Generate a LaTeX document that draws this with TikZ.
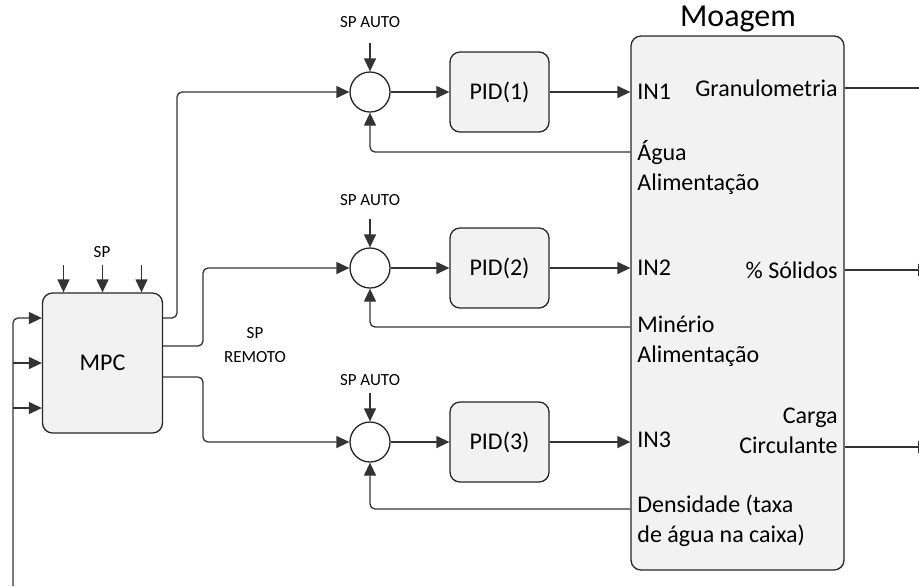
\documentclass[tikz,border=0pt]{standalone}
\usepackage{fontspec}
\setmainfont{Carlito}
\usetikzlibrary{arrows.meta}
\begin{document}
\begin{tikzpicture}[x=0.5pt,y=-0.5pt,
  line/.style={draw=black!80, line width=0.65pt, rounded corners=2.5pt},
  arr/.style={line, -{Triangle[length=6.5pt,width=6pt]}},
  blk/.style={draw=black!85, fill=black!5, line width=0.65pt, rounded corners=5pt, inner sep=0pt},
  sum/.style={circle, draw=black!85, fill=white, line width=0.65pt, minimum size=20pt, inner sep=0pt},
  txt/.style={font=\fontsize{12}{15}\selectfont, inner sep=0pt},
  small/.style={font=\fontsize{8.5}{12}\selectfont, inner sep=0pt, align=center}]
\useasboundingbox (0,0) rectangle (919,586);

% blocks
\node[blk, minimum width=60pt, minimum height=70pt, txt] (mpc) at (102.5,363) {MPC};
\node[blk, minimum width=106.5pt, minimum height=267pt] (moagem) at (737.5,303) {};
\node[font=\fontsize{16}{19}\selectfont, inner sep=0pt] (moatitle) at (738,19) {Moagem};
\foreach \i/\y in {1/92,2/268,3/442}{
  \node[blk, minimum width=49.5pt, minimum height=40pt, txt] (pid\i) at (499.5,\y) {PID(\i)};
  \node[sum] (c\i) at (370,\y) {};
}

% small labels
\node[small] (sp) at (102,252) {SP};
\node[small] (spa1) at (370,22) {SP AUTO};
\node[small] (spa2) at (370,200) {SP AUTO};
\node[small] (spa3) at (370,380) {SP AUTO};
\node[small] (sprem) at (255,345) {SP\\REMOTO};

% texts inside Moagem
\node[txt, anchor=west] (in1) at (637,92) {IN1};
\node[txt, anchor=west] (in2) at (637,268) {IN2};
\node[txt, anchor=west] (in3) at (637,440) {IN3};
\node[txt, anchor=east] (gran) at (838,88) {Granulometria};
\node[txt, anchor=east] (sol) at (838,270) {\% Sólidos};
\node[txt, anchor=east, align=right] (carga) at (838,431) {Carga\\Circulante};
\node[txt, anchor=west, align=left] (agua) at (637,167) {Água\\Alimentação};
\node[txt, anchor=west, align=left] (min) at (637,341) {Minério\\Alimentação};
\node[txt, anchor=west, align=left] (dens) at (637,521) {Densidade (taxa\\de água na caixa)};

% coordinates
\coordinate (b1) at (177,0);
\coordinate (b2) at (203,0);
\coordinate (fbb) at (13,586);

% SP into MPC
\foreach \dx in {-19.5,0,19.5}{
  \draw[arr] ([xshift=\dx pt,yshift=13.5pt]mpc.north) -- ([xshift=\dx pt]mpc.north);
}
% SP AUTO arrows, sum -> PID -> process
\foreach \i in {1,2,3}{
  \draw[arr] ([yshift=14pt]c\i.north) -- (c\i.north);
  \draw[arr] (c\i.east) -- (pid\i.west);
  \draw[arr] (pid\i.east) -- (pid\i.east -| moagem.west);
}

% feedback into MPC
\draw[arr] (fbb) |- ([yshift=22.5pt]mpc.west);
\draw[arr] (fbb |- mpc.west) -- (mpc.west);
\draw[arr] (fbb |- 0,408) -- (mpc.west |- 0,408);

% MPC outputs
\draw[arr] ([yshift=22.5pt]mpc.east) -| (b1 |- c1) -- (c1.west);
\draw[arr] ([yshift=8.5pt]mpc.east) -| (b2 |- c2) -- (c2.west);
\draw[arr] ([yshift=-7pt]mpc.east) -| (b2 |- c3) -- (c3.west);

% process feedback
\draw[arr] (moagem.west |- 0,152) -| (c1.south);
\draw[arr] (moagem.west |- 0,327) -| (c2.south);
\draw[arr] (moagem.west |- 0,509) -| (c3.south);

% outputs
\draw[line] (moagem.east |- 0,88) -- (919,88);
\draw[arr] (moagem.east |- 0,270) -- (931,270);
\draw[arr] (moagem.east |- 0,447) -- (931,447);
\end{tikzpicture}
\end{document}
